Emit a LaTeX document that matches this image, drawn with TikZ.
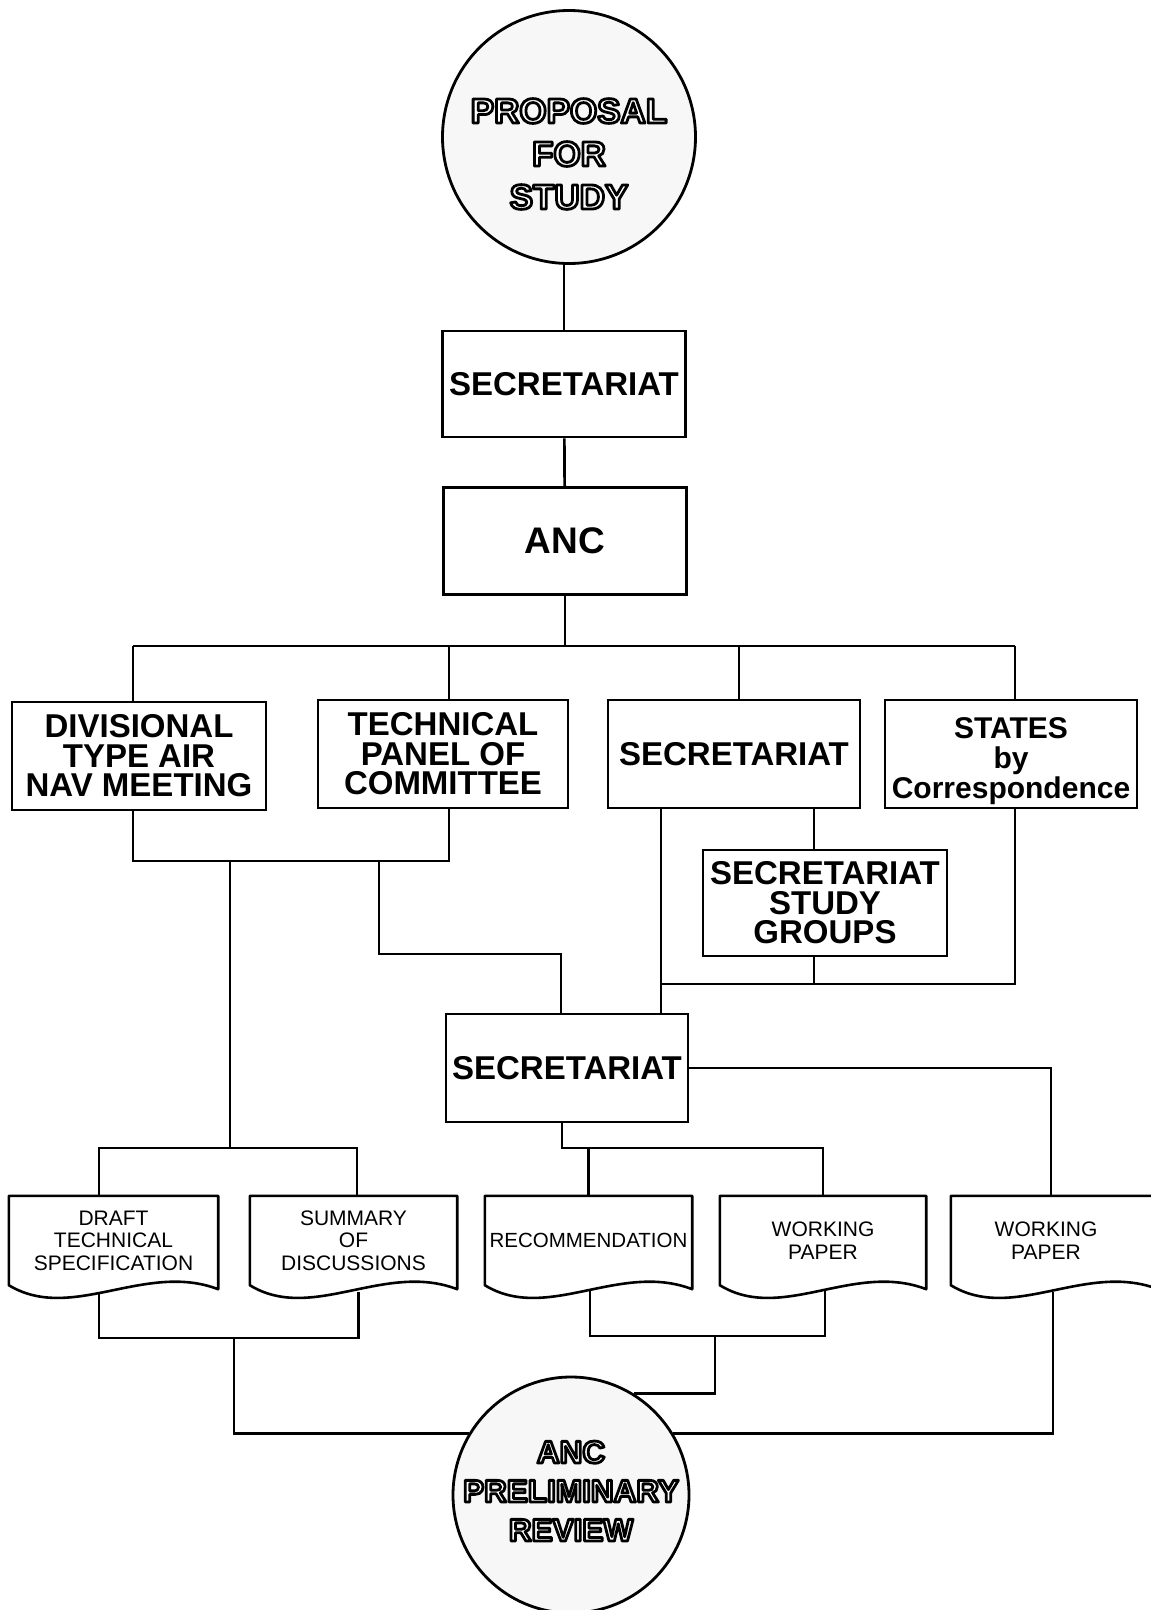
\documentclass[tikz,border=0pt]{standalone}
\usepackage{fontspec}
\setmainfont{Liberation Sans}
\usetikzlibrary{calc,positioning}
% white letters with a black outline
\newcommand{\hollow}[1]{{\color{white}\special{pdf:literal direct 2 Tr 2.8 w 1 j 0 G}#1\special{pdf:literal direct 0 Tr}}}
% paper sheet with a wavy lower edge, #1 = extra width on the right
\newcommand{\wavedoc}[2][0]{%
  \draw[docline] (#2.south west) -- (#2.north west) -- ($(#2.north east)+(#1,0)$)
    -- ($(#2.south east)+(#1,4)$)
    .. controls ($(#2.south west)!0.65!($(#2.south east)+(#1,0)$)+(0,-24)$)
    and ($(#2.south west)!0.3!($(#2.south east)+(#1,0)$)+(0,38)$) .. (#2.south west) -- cycle;}
\tikzset{
  box/.style={draw, line width=2.6pt, align=center, inner sep=0pt,
    font=\fontsize{33}{29.5}\selectfont\bfseries},
  doc/.style={inner sep=0pt, minimum height=89pt, align=center,
    font=\fontsize{21}{22.5}\selectfont},
  docline/.style={line width=2.6pt, line join=round},
  round/.style={circle, draw, line width=2.8pt, fill=black!3, inner sep=0pt},
  hollowtext/.style={align=center},
  link/.style={line width=2.7pt}
}

\begin{document}
\begin{tikzpicture}[x=1pt,y=-1pt]
\useasboundingbox (0,0) rectangle (1151,1610);

% top of the chart
\node[round, minimum size=253pt] (prop) at (569,137) {};
\node[hollowtext, font=\fontsize{35}{43}\selectfont\bfseries] (proptext) at (569,154)
  {\hollow{PROPOSAL}\\\hollow{FOR}\\\hollow{STUDY}};
\node[box, minimum width=243pt, minimum height=106pt] (sec1) at (564,384) {SECRETARIAT};
\node[box, minimum width=243pt, minimum height=107pt,
  font=\fontsize{37}{37}\selectfont\bfseries] (anc) at (565,541) {ANC};

% bodies
\node[box, minimum width=254pt, minimum height=108pt] (div) at (139,756) {DIVISIONAL\\TYPE AIR\\NAV MEETING};
\node[box, minimum width=250pt, minimum height=108pt] (tech) at (443,754) {TECHNICAL\\PANEL OF\\COMMITTEE};
\node[box, minimum width=252pt, minimum height=108pt] (sec2) at (734,754) {SECRETARIAT};
\node[box, minimum width=252pt, minimum height=108pt,
  font=\fontsize{30}{30}\selectfont\bfseries] (states) at (1011,754) {\rule{0pt}{35pt}STATES\\by\\Correspondence};
\node[box, minimum width=244pt, minimum height=106pt] (ssg) at (825,903) {SECRETARIAT\\STUDY\\GROUPS};
\node[box, minimum width=242pt, minimum height=108pt] (sec3) at (567,1068) {SECRETARIAT};

% papers
\node[doc, minimum width=209pt] (draft) at (113.5,1240.5) {DRAFT\\TECHNICAL\\SPECIFICATION};
\node[doc, minimum width=207pt] (summ) at (353.5,1240.5) {SUMMARY\\OF\\DISCUSSIONS};
\node[doc, minimum width=207pt, font=\fontsize{20.5}{22.5}\selectfont] (rec) at (588.5,1240.5) {RECOMMENDATION};
\node[doc, minimum width=206pt] (wp1) at (823,1240.5) {WORKING\\PAPER};
\node[doc, minimum width=190pt] (wp2) at (1046,1240.5) {WORKING\\PAPER};
\foreach \d in {draft,summ,rec,wp1}
  \wavedoc{\d};
\wavedoc[17]{wp2};

\node[round, minimum size=236pt] (rev) at (571,1495) {};
\node[hollowtext, font=\fontsize{31.5}{39}\selectfont\bfseries] (revtext) at (571,1491)
  {\hollow{ANC}\\\hollow{PRELIMINARY}\\\hollow{REVIEW}};

% junctions
\coordinate (busL) at (133,646);
\coordinate (busR) at (1015,646);
\coordinate (techdrop) at (449,646);
\coordinate (secdrop) at (739,646);
\coordinate (dtj) at (230,861);
\coordinate (tj) at (379,861);
\coordinate (tk) at (561,954);
\coordinate (mj) at (661,984);
\coordinate (sj) at (814,984);
\coordinate (dbus) at (230,1148);
\coordinate (dbusL) at (99,1148);
\coordinate (dbusR) at (357,1148);
\coordinate (sbus) at (562,1148);
\coordinate (lj) at (234,1338);
\coordinate (mj2) at (715,1336);
\coordinate (draftout) at ($(draft.south)+(-14.5,8)$);
\coordinate (summout) at ($(summ.south)+(5,7)$);
\coordinate (recout) at ($(rec.south)+(1.5,6)$);
\coordinate (wpout) at ($(wp1.south)+(2,6)$);
\coordinate (wp2in) at ($(wp2.north)+(5,0)$);
\coordinate (wp2out) at ($(wp2.south)+(7,7)$);

% connectors
\draw[link] (sec1.north) -- (sec1.north |- prop.south);
\draw[link] (sec1) -- (anc);
\draw[link] (anc.south) -- (anc.south |- busL);
\draw[link] (busL) -- (busR);
\draw[link] (busL) -- (busL |- div.north);
\draw[link] (techdrop) -- (techdrop |- tech.north);
\draw[link] (secdrop) -- (secdrop |- sec2.north);
\draw[link] (busR) -- (busR |- states.north);

\draw[link] (busL |- div.south) |- (techdrop |- dtj) -- (techdrop |- tech.south);
\draw[link] (dtj) -- (dbus);
\draw[link] (dbusL |- draft.north) -- (dbusL) -- (dbusR) -- (dbusR |- summ.north);
\draw[link] (tj) |- (tk) -- (tk |- sec3.north);

\draw[link] (mj |- sec2.south) -- (mj |- sec3.north);
\draw[link] (mj) -- (busR |- mj) -- (busR |- states.south);
\draw[link] (sj |- sec2.south) -- (sj |- ssg.north);
\draw[link] (sj |- ssg.south) -- (sj);

\draw[link] (sec3.east) -| (wp2in);
\draw[link] (sbus |- sec3.south) -- (sbus) -- (sbus -| wp1.north) -- (wp1.north);
\draw[link] (rec.north) -- (rec.north |- sbus);

\draw[link] (draftout) -- (draftout |- lj) -- (summout |- lj) -- (summout);
\draw[link] (lj) |- (rev.149);
\draw[link] (recout) -- (recout |- mj2) -- (wpout |- mj2) -- (wpout);
\draw[link] (mj2) |- (rev.58);
\draw[link] (wp2out) |- (rev.31);
\end{tikzpicture}
\end{document}
